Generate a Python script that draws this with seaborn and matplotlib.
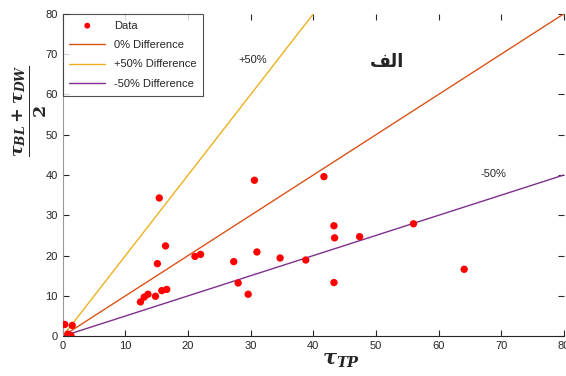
import matplotlib
matplotlib.use("Agg")
import matplotlib.pyplot as plt
import seaborn as sns
import pandas as pd
import numpy as np

tau_tp = [0.3, 1.5, 1.3, 0.8, 12.4, 13.0, 13.6, 14.8, 15.8, 16.6, 15.1, 15.4, 16.4,
          21.1, 22.0, 27.3, 28.0, 29.6, 30.6, 31.0, 34.7, 38.8, 41.7, 43.3, 43.4,
          43.3, 47.4, 56.0, 64.1]
tau_mean = [2.9, 2.65, 0.1, 0.5, 8.5, 9.7, 10.4, 9.9, 11.3, 11.6, 18.0, 34.3, 22.4,
            19.8, 20.3, 18.5, 13.2, 10.4, 38.7, 20.9, 19.4, 18.9, 39.6, 27.4, 24.4,
            13.3, 24.7, 27.9, 16.6]

ref_x = [0, 80]
ratios = [1.0, 2.0, 0.5]
ref_labels = ["0% Difference", "+50% Difference", "-50% Difference"]
ref_colors = ["#D95319", "#EDB120", "#7E2F8E"]

sns.set_style("ticks")
plt.rcParams['font.family'] = ['Liberation Sans', 'DejaVu Sans']
plt.rcParams['mathtext.fontset'] = 'custom'
plt.rcParams['mathtext.rm'] = 'DejaVu Serif:bold'
plt.rcParams['mathtext.it'] = 'DejaVu Serif:italic:bold'
plt.rcParams['mathtext.bf'] = 'DejaVu Serif:bold'

fig = plt.figure(figsize=(5.66, 3.76), dpi=100)
ax = fig.add_axes([0.111, 0.106, 0.885, 0.857])

df = pd.DataFrame({"x": tau_tp, "y": tau_mean})
sns.scatterplot(data=df, x="x", y="y", ax=ax, color="red", s=28,
                edgecolor="none", label="Data", zorder=3)

for r, lab, c in zip(ratios, ref_labels, ref_colors):
    line = pd.DataFrame({"x": ref_x, "y": [v * r for v in ref_x]})
    sns.lineplot(data=line, x="x", y="y", ax=ax, color=c, lw=1.0, label=lab)

ax.set_xlim(0, 80)
ax.set_ylim(0, 80)
ax.set_xticks(range(0, 81, 10))
ax.set_yticks(range(0, 81, 10))
ax.tick_params(direction="in", length=4, labelsize=8, labelcolor="#262626",
               top=True, right=True, width=0.8)
for s in ["top", "right"]:
    ax.spines[s].set_visible(False)
ax.spines["left"].set_color("#999999")
ax.spines["bottom"].set_color("#262626")

ax.set_xlabel(r"$\tau_{TP}$", fontsize=15, va="center")
ax.xaxis.set_label_coords(0.555, -0.075)
ax.set_ylabel(r"$\frac{\tau_{BL}+\tau_{DW}}{2}$", fontsize=18, va="center")
ax.yaxis.set_label_coords(-0.066, 0.70)

ax.text(30.3, 68.5, "+50%", fontsize=8, ha="center", va="center")
ax.text(68.7, 40.3, "-50%", fontsize=8, ha="center", va="center")
# Arabic "الف" in contextual presentation forms (visual order)
ax.text(51.8, 68.0, "\uFED2\uFEDF\uFE8D", fontsize=13, fontweight="bold",
        family="DejaVu Sans", ha="center", va="center")

leg = ax.legend(loc="upper left", fontsize=8, frameon=True, fancybox=False,
                edgecolor="#262626", borderaxespad=0, handlelength=3.2,
                labelspacing=0.85, borderpad=0.6, markerscale=0.8)
leg.get_frame().set_linewidth(0.8)

fig.savefig("out.png", dpi=100)
